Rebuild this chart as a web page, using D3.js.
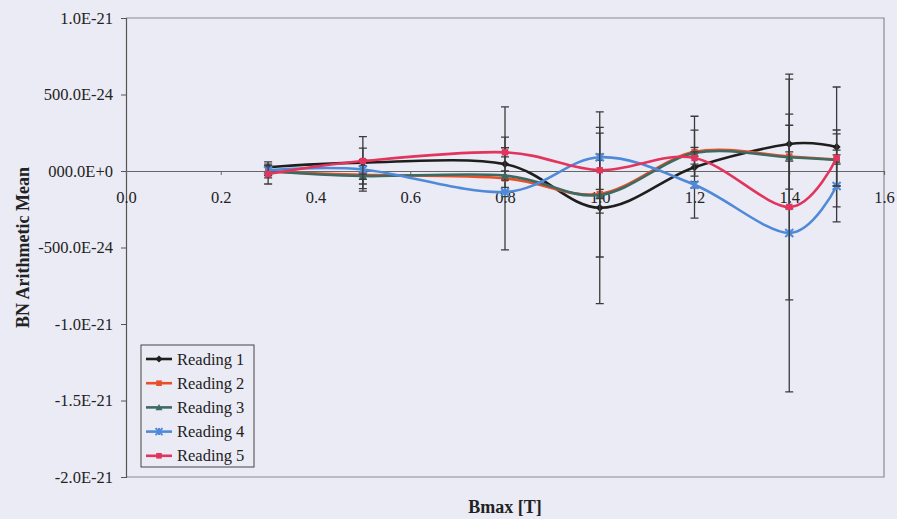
<!DOCTYPE html>
<html>
<head>
<meta charset="utf-8">
<script src="https://cdn.jsdelivr.net/npm/d3@7"></script>
<style>
  html, body { margin: 0; padding: 0; background: #ebebf5; }
  svg { display: block; }
  text { font-family: "Liberation Serif", "Times New Roman", serif; fill: #222; }
</style>
</head>
<body>
<svg id="chart" width="897" height="519"></svg>
<script>
// ---- data (values in units of 1E-24) ----
const bmax = [0.3, 0.5, 0.8, 1.0, 1.2, 1.4, 1.5];
const seriesNames = ["Reading 1", "Reading 2", "Reading 3", "Reading 4", "Reading 5"];
const reading1 = [25, 55, 45, -240, 25, 176, 157];
const reading2 = [-5, -25, -48, -150, 125, 95, 75];
const reading3 = [0, -33, -30, -157, 117, 90, 72];
const reading4 = [5, 10, -137, 90, -90, -405, -98];
const reading5 = [-20, 65, 122, 5, 85, -235, 85];
const error1 = [35, 170, 176, 627, 333, 424, 392];
const error2 = [40, 60, 467, 30, 30, 30, 30];
const error3 = [30, 98, 30, 405, 150, 209, 170];
const error4 = [30, 65, 30, 20, 20, 1038, 235];
const error5 = [65, 85, 30, 280, 40, 607, 183];
const xTicks = [0, 0.2, 0.4, 0.6, 0.8, 1.0, 1.2, 1.4, 1.6];
const xTickLabels = ["0.0", "0.2", "0.4", "0.6", "0.8", "1.0", "1.2", "1.4", "1.6"];
const yTicks = [1000, 500, 0, -500, -1000, -1500, -2000];
const yTickLabels = ["1.0E-21", "500.0E-24", "000.0E+0", "-500.0E-24", "-1.0E-21", "-1.5E-21", "-2.0E-21"];
const colors = ["#1e1e1e", "#e8502a", "#3d6b62", "#4f8ad8", "#e2345c"];
const markers = ["diamond", "square", "triangle", "cross", "square"];

const values = [reading1, reading2, reading3, reading4, reading5];
const errors = [error1, error2, error3, error4, error5];

// ---- layout ----
const L = 126, R = 884, T = 18, B = 477;
const svg = d3.select("#chart");
const x = d3.scaleLinear().domain([0, 1.6]).range([L, R]);
const y = d3.scaleLinear().domain([-2000, 1000]).range([B, T]);

// plot border
svg.append("path")
  .attr("d", `M${L},${T}H${R}V${B}H${L}`)
  .attr("fill", "none").attr("stroke", "#8a8a8e").attr("stroke-width", 1.2);

// y axis
const yAxis = d3.axisLeft(y).tickValues(yTicks)
  .tickFormat((d, i) => yTickLabels[i]).tickSize(5).tickPadding(8);
const gy = svg.append("g").attr("transform", `translate(${L},0)`).call(yAxis);
gy.select(".domain").attr("stroke", "#555").attr("stroke-width", 1.2);
gy.selectAll(".tick line").attr("stroke", "#555");
gy.selectAll("text").style("font-family", "Liberation Serif, serif").style("font-size", "16.5px").attr("fill", "#222");

// x axis at y = 0
const xAxis = d3.axisBottom(x).tickValues(xTicks)
  .tickFormat((d, i) => xTickLabels[i]).tickSize(4).tickPadding(16);
const gx = svg.append("g").attr("transform", `translate(0,${y(0)})`).call(xAxis);
gx.select(".domain").attr("stroke", "#666").attr("stroke-width", 1.2);
gx.selectAll(".tick line").attr("stroke", "#666");
gx.selectAll("text").style("font-family", "Liberation Serif, serif").style("font-size", "16.5px").attr("fill", "#333");

// axis titles
svg.append("text").attr("x", (L + R) / 2).attr("y", 513)
  .attr("text-anchor", "middle").style("font-weight", "bold").style("font-size", "18px")
  .text("Bmax [T]");
svg.append("text").attr("transform", `translate(29,${(T + B) / 2}) rotate(-90)`)
  .attr("text-anchor", "middle").style("font-weight", "bold").style("font-size", "18px")
  .text("BN Arithmetic Mean");

// marker drawing
function drawMarker(g, type, cx, cy, color, s) {
  if (type === "diamond") {
    g.append("path").attr("d", `M${cx},${cy - s}L${cx + s},${cy}L${cx},${cy + s}L${cx - s},${cy}Z`).attr("fill", color);
  } else if (type === "square") {
    g.append("rect").attr("x", cx - s * 0.8).attr("y", cy - s * 0.8).attr("width", s * 1.6).attr("height", s * 1.6).attr("fill", color);
  } else if (type === "triangle") {
    g.append("path").attr("d", `M${cx},${cy - s}L${cx + s},${cy + s * 0.8}L${cx - s},${cy + s * 0.8}Z`).attr("fill", color);
  } else if (type === "cross") {
    g.append("path").attr("d", `M${cx - s},${cy - s}L${cx + s},${cy + s}M${cx - s},${cy + s}L${cx + s},${cy - s}M${cx},${cy - s}V${cy + s}`)
      .attr("stroke", color).attr("stroke-width", 2).attr("fill", "none");
  }
}

const line = d3.line().curve(d3.curveCatmullRom.alpha(0)).x(d => x(d[0])).y(d => y(d[1]));

values.forEach((vals, si) => {
  const g = svg.append("g");
  const pts = bmax.map((b, i) => [b, vals[i]]);
  g.append("path").datum(pts).attr("d", line)
    .attr("fill", "none").attr("stroke", colors[si]).attr("stroke-width", 2.6);
  // error bars
  bmax.forEach((b, i) => {
    const cx = x(b), hi = y(vals[i] + errors[si][i]), lo = y(vals[i] - errors[si][i]);
    g.append("path").attr("d", `M${cx},${hi}V${lo}M${cx - 4},${hi}H${cx + 4}M${cx - 4},${lo}H${cx + 4}`)
      .attr("stroke", "#3a3a3c").attr("stroke-width", 1.3).attr("fill", "none");
  });
  bmax.forEach((b, i) => drawMarker(g, markers[si], x(b), y(vals[i]), colors[si], 4));
});

// legend
const lg = svg.append("g");
lg.append("rect").attr("x", 141).attr("y", 345).attr("width", 113).attr("height", 122)
  .attr("fill", "#ebebf5").attr("stroke", "#444").attr("stroke-width", 1);
seriesNames.forEach((name, i) => {
  const yy = 359 + i * 24.2;
  lg.append("line").attr("x1", 146).attr("x2", 172).attr("y1", yy).attr("y2", yy)
    .attr("stroke", colors[i]).attr("stroke-width", 2.6);
  drawMarker(lg, markers[i], 159, yy, colors[i], 3.5);
  lg.append("text").attr("x", 177).attr("y", yy + 5.5).style("font-size", "16.5px").text(name);
});
</script>
</body>
</html>
